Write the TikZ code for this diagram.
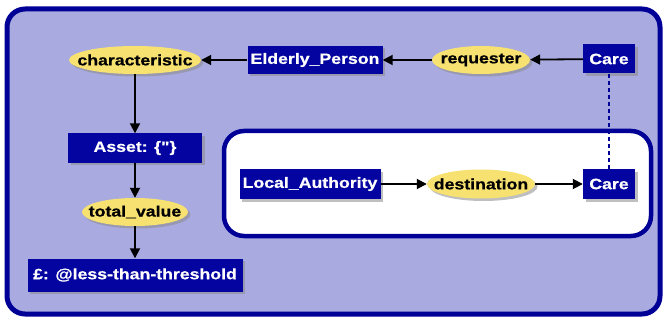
\documentclass[tikz,border=0pt]{standalone}
\usepackage{fontspec}
\newfontfamily\lblfont[FakeStretch=1.18,FakeBold=0.6]{Liberation Sans}
\usetikzlibrary{shapes.geometric,arrows.meta,shadows}
\definecolor{outerfill}{RGB}{168,170,224}
\definecolor{navy}{RGB}{4,4,160}
\definecolor{edgeblue}{RGB}{0,0,150}
\definecolor{lblyellow}{RGB}{247,225,112}
\newcommand{\rlbl}[1]{\makebox[0pt]{#1}}
\tikzset{
  shad/.style={drop shadow={shadow xshift=2.5pt,shadow yshift=-2.5pt,fill=black!45,opacity=0.55}},
  concept/.style={shad,rectangle,fill=navy,text=white,inner sep=0pt,
    font=\lblfont\bfseries\fontsize{15}{16}\selectfont},
  relation/.style={shad,ellipse,fill=lblyellow,text=black,inner sep=0pt,
    font=\lblfont\bfseries\fontsize{15}{16}\selectfont},
  link/.style={line width=1.8pt,black,-{Triangle[length=10pt,width=10pt]}},
  corefline/.style={line width=1.6pt,edgeblue,dash pattern=on 4pt off 3pt}
}
\begin{document}
\begin{tikzpicture}[x=1pt,y=-1pt]
\useasboundingbox (0,0) rectangle (665,321);
% outer context
\draw[line width=5pt,edgeblue,fill=outerfill,rounded corners=18pt] (7,9) rectangle (660,314);
% inner context
\draw[line width=4.5pt,edgeblue,fill=white,rounded corners=20pt] (224,131) rectangle (651,236);
% nodes
\node[relation,minimum width=132pt,minimum height=28pt] (char) at (135,60) {\rlbl{characteristic}};
\node[concept,minimum width=135pt,minimum height=28pt] (elder) at (315,60) {Elderly\_Person};
\node[relation,minimum width=98pt,minimum height=28pt] (req) at (481,60) {\rlbl{requester}};
\node[concept,minimum width=52pt,minimum height=29pt] (care1) at (609,59) {Care};
\node[concept,minimum width=134pt,minimum height=29pt] (asset) at (135,148) {Asset: \{"\}};
\node[relation,minimum width=106pt,minimum height=28pt] (total) at (135,212) {\rlbl{total\_value}};
\node[concept,minimum width=215pt,minimum height=33pt] (pound) at (135,275) {£: @less-than-threshold};
\node[concept,minimum width=141pt,minimum height=30pt] (local) at (310,184) {Local\_Authority};
\node[relation,minimum width=108pt,minimum height=29pt] (dest) at (481,184) {\rlbl{destination}};
\node[concept,minimum width=52pt,minimum height=30pt] (care2) at (609,184) {Care};
% connectors
\draw[link] (elder) -- (char);
\draw[link] (req) -- (elder);
\draw[link] (care1) -- (req);
\draw[link] (char) -- (asset);
\draw[link] (asset) -- (total);
\draw[link] (total) -- (pound);
\draw[link] (local) -- (dest);
\draw[link] (dest) -- (care2);
\draw[corefline] (care1) -- (care2);
\end{tikzpicture}
\end{document}
